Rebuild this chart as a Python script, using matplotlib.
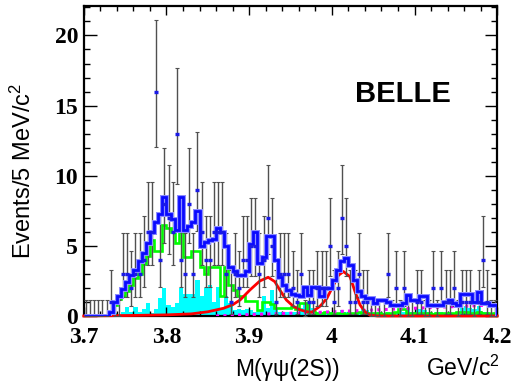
import math
import numpy as np
import matplotlib
matplotlib.use("Agg")
import matplotlib.pyplot as plt
from matplotlib.ticker import MultipleLocator

plt.rcParams['mathtext.fontset'] = 'custom'
plt.rcParams['mathtext.rm'] = 'Liberation Sans'
plt.rcParams['mathtext.it'] = 'Liberation Sans'

# ---------------------------------------------------------------
# data (100 bins of 5 MeV from 3.7 to 4.2)
# ---------------------------------------------------------------
x_lo, x_hi, n_bins = 3.7, 4.2, 100

counts = [0, 0, 0, 0, 0, 0, 1, 0, 0, 3,
          3, 2, 3, 3, 4, 6, 6, 16, 4, 8,
          7, 6, 13, 4, 3, 8, 3, 9, 6, 4,
          4, 6, 6, 6, 3, 1, 3, 2, 4, 4,
          5, 5, 3, 4, 7, 5, 1, 3, 3, 3,
          2, 1, 3, 0, 1, 1, 2, 2, 2, 5,
          1, 2, 7, 5, 1, 1, 3, 1, 1, 0,
          0, 0, 0, 3, 0, 2, 0, 2, 0, 0,
          1, 1, 0, 0, 2, 0, 2, 1, 1, 2,
          0, 1, 1, 1, 0, 1, 4, 1, 0, 0]

total_fit = [0, 0, 0, 0, 0, 0, 0.3, 1.0, 1.4, 1.9,
             2.4, 2.9, 3.3, 3.9, 4.5, 5.2, 6.0, 6.7, 7.3, 8.5,
             7.3, 6.9, 6.1, 8.5, 6.1, 6.4, 6.7, 7.45, 5.0, 5.3,
             5.4, 5.5, 6.3, 6.0, 5.0, 3.5, 3.2, 2.9, 2.9, 3.2,
             5.1, 6.0, 3.8, 4.2, 5.7, 5.7, 4.0, 2.8, 2.2, 1.86,
             1.6, 1.5, 1.4, 2.1, 1.5, 2.1, 2.1, 1.4, 2.0, 2.0,
             2.6, 3.3, 3.9, 4.1, 3.6, 2.6, 1.8, 1.4, 1.26, 1.26,
             0.9, 1.14, 1.14, 1.0, 0.8, 0.8, 0.8, 0.9, 1.5, 1.14,
             1.14, 1.4, 1.4, 0.8, 0.8, 0.8, 0.8, 1.0, 1.14, 0.9,
             0.8, 1.6, 1.6, 1.6, 1.0, 1.74, 0.9, 0.9, 0.8, 0.8]

green_bkg = [0, 0, 0, 0, 0, 0, 0.3, 0.8, 1.2, 1.4,
             1.8, 2.2, 2.7, 3.0, 3.7, 4.3, 5.4, 4.6, 4.6, 6.5,
             6.3, 6.0, 5.2, 6.0, 4.2, 4.2, 4.6, 4.6, 3.5, 3.0,
             3.5, 3.5, 3.5, 1.4, 3.5, 2.2, 1.85, 1.4, 1.4, 1.1,
             1.1, 1.1, 0.4, 1.0, 1.0, 0.85, 0.55, 0.55, 0.55, 0.55,
             0.65, 0.5, 0.95, 0.95, 0.3, 0.25, 0.2, 0.2, 0.3, 0.2,
             0.15, 0.2, 0.2, 0.15, 0.2, 0.2, 0.3, 0.2, 0.2, 0.15,
             0.2, 0.2, 0.15, 0.2, 0.2, 0.3, 0.5, 0.5, 0.2, 0.2,
             0.15, 0.2, 0.2, 0.2, 0.15, 0.2, 0.2, 0.2, 0.15, 0.2,
             0.3, 0.3, 0.3, 0.2, 0.2, 0.3, 0.2, 0.2, 0.15, 0.2]

cyan_bkg = [0, 0, 0, 0, 0, 0, 0, 0.2, 0, 0.3,
            0.65, 0.3, 0.65, 0.3, 0.5, 0.9, 0.2, 0.5, 1.25, 2.0,
            0.8, 0.65, 0.9, 2.0, 1.6, 1.6, 1.6, 2.6, 1.4, 2.0,
            2.2, 1.0, 2.1, 0.6, 1.4, 0.9, 0.4, 0.5, 0.4, 0.5,
            0.4, 0.3, 0.4, 1.4, 0.6, 1.85, 0.6, 0.3, 0.3, 0.3,
            0.3, 0.3, 0.6, 0.9, 0.9, 0.6, 0.3, 0.3, 0.2, 0.3,
            0.3, 0.2, 0.4, 0.3, 0.2, 0.2, 0.3, 0.5, 0.4, 0.3,
            0.2, 0.3, 0.2, 0.3, 0.2, 0.3, 0.5, 0.3, 0.6, 0.3,
            0.5, 0.5, 0.4, 0.3, 0.2, 0.3, 0.3, 0.2, 0.3, 0.2,
            0.3, 0.6, 0.7, 0.6, 0.5, 0.7, 0.3, 0.3, 0.2, 0.2]

# signal curve (two peaks)
sig_m = [3.70, 3.76, 3.80, 3.83, 3.85, 3.869, 3.880, 3.889, 3.901, 3.913,
         3.923, 3.931, 3.937, 3.945, 3.953, 3.961, 3.970, 3.976, 3.986, 3.994,
         4.002, 4.008, 4.014, 4.022, 4.028, 4.034, 4.040, 4.046, 4.055, 4.20]
sig_v = [0.0, 0.04, 0.08, 0.15, 0.3, 0.55, 0.8, 1.14, 1.86, 2.5,
         2.76, 2.45, 1.86, 1.14, 0.71, 0.45, 0.3, 0.28, 0.71, 1.26,
         2.2, 2.9, 3.17, 2.8, 1.74, 0.8, 0.3, 0.07, 0.0, 0.0]

# smooth non-resonant background (magenta dotted)
flat_m = [3.86, 3.90, 3.94, 3.98, 4.02, 4.06, 4.10, 4.14, 4.18, 4.20]
flat_v = [0.0, 0.1, 0.18, 0.25, 0.35, 0.45, 0.55, 0.65, 0.75, 0.8]


################################################################################
# Poisson (Garwood) 68% intervals for the data error bars
################################################################################
def poisson_cdf(k, mu):
    s = 0.0
    term = math.exp(-mu)
    for i in range(k + 1):
        if i > 0:
            term *= mu / i
        s += term
    return s

def solve(f, a, b):
    for _ in range(80):
        c = 0.5 * (a + b)
        if f(a) * f(c) <= 0:
            b = c
        else:
            a = c
    return 0.5 * (a + b)

def garwood(n):
    if n == 0:
        return 0.0, 1.148
    alpha = 0.1587
    up = solve(lambda mu: poisson_cdf(n, mu) - alpha, 0.0, 60.0)
    lo = solve(lambda mu: 1.0 - poisson_cdf(n - 1, mu) - alpha, 0.0, 60.0)
    return lo, up


edges = np.linspace(x_lo, x_hi, n_bins + 1)
centers = 0.5 * (edges[1:] + edges[:-1])
counts = np.array(counts, dtype=float)
lims = np.array([garwood(int(c)) for c in counts])

fig = plt.figure(figsize=(5.11, 3.88), dpi=100)
ax = fig.add_axes([0.164, 0.1856, 0.809, 0.7989])

ax.stairs(cyan_bkg, edges, fill=True, color='#00ffff', lw=0, zorder=1)
ax.stairs(green_bkg, edges, color='#00ff00', lw=1.9, zorder=2)
ax.plot(flat_m, flat_v, color='#ff00ff', lw=2.2, ls=(0, (1, 1.4)), zorder=3)
ax.plot(sig_m, sig_v, color='#ff0000', lw=2.0, zorder=4, clip_on=False)

ax.errorbar(centers, counts, yerr=[counts - lims[:, 0], lims[:, 1] - counts],
            fmt='none', ecolor='#505050', elinewidth=1.0, capsize=1.3,
            capthick=0.8, zorder=5)

ax.stairs(total_fit, edges, color='#8c8cff', lw=3.6, zorder=6)
ax.stairs(total_fit, edges, color='#0a0aff', lw=2.0, zorder=7)

nz = counts > 0
ax.plot(centers[nz], counts[nz], ls='none', marker='_', ms=3.4, mew=2.4,
        color='#1a1ae6', zorder=8)

ax.set_xlim(x_lo, x_hi)
ax.set_ylim(0, 22.1)

ax.xaxis.set_major_locator(MultipleLocator(0.1))
ax.xaxis.set_minor_locator(MultipleLocator(0.02))
ax.yaxis.set_major_locator(MultipleLocator(5))
ax.yaxis.set_minor_locator(MultipleLocator(1))
ax.set_xticks([3.7, 3.8, 3.9, 4.0, 4.1, 4.2])
ax.set_xticklabels(['3.7', '3.8', '3.9', '4', '4.1', '4.2'])

ax.tick_params(which='both', direction='in', top=True, right=True, width=1.0)
ax.tick_params(axis='x', which='major', length=6.5, pad=8)
ax.tick_params(axis='x', which='minor', length=3.3)
ax.tick_params(axis='y', which='major', length=9, pad=4)
ax.tick_params(axis='y', which='minor', length=4.5)
for lab in ax.get_xticklabels() + ax.get_yticklabels():
    lab.set_family('Liberation Serif')
    lab.set_fontweight('bold')
    lab.set_fontsize(17)

for sp in ax.spines.values():
    sp.set_linewidth(1.6)

fig.text(0.562, 0.03, 'M(γψ(2S))', fontsize=16.5, family='Liberation Sans',
         ha='center', va='baseline')
fig.text(0.906, 0.03, 'GeV/c$^{2}$', fontsize=16.5, family='Liberation Sans',
         ha='center', va='baseline')
fig.text(0.045, 0.56, 'Events/5 MeV/c$^{2}$', fontsize=17, family='Liberation Sans',
         ha='center', va='center', rotation=90)
ax.text(0.655, 0.715, 'BELLE', transform=ax.transAxes, fontsize=21,
        family='Liberation Sans', fontweight='bold', ha='left', va='center')

fig.savefig('out.png', dpi=100)
